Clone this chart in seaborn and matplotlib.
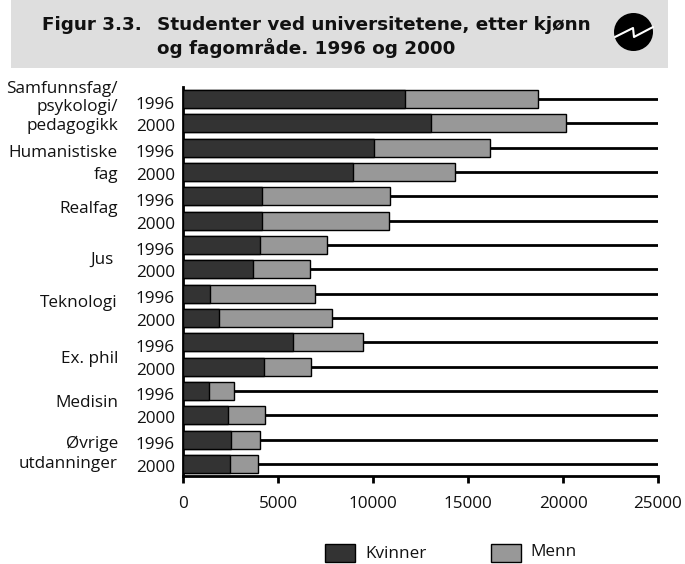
#!/usr/bin/env python3
"""Figur 3.3: students by gender and field, 1996 and 2000"""

import pandas as pd
import matplotlib.pyplot as plt
from matplotlib.patches import Ellipse, Rectangle
from matplotlib.transforms import ScaledTranslation
import seaborn as sns

W, H = 685, 564

# Category labels, one entry per printed line
field_lines = ['Samfunnsfag/', 'psykologi/', 'pedagogikk', 'Humanistiske', 'fag', 'Realfag', 'Jus ',
               'Teknologi', 'Ex. phil', 'Medisin', 'Øvrige', 'utdanninger']
years = ['1996', '2000']

# Pairs are 1996, 2000 for each field
kvinner = [11700, 13050, 10050, 8950, 4150, 4150, 4050, 3700,
           1400, 1900, 5800, 4250, 1350, 2350, 2550, 2500]
totalt = [18700, 20150, 16150, 14300, 10900, 10850, 7600, 6700,
          6950, 7850, 9450, 6750, 2700, 4300, 4050, 3950]
xticks = [0, 5000, 10000, 15000, 20000, 25000]

DARK = '#333333'
MID = '#989898'
BAND = '#dedede'
INK = '#111111'
FONT = ['Open Sans', 'DejaVu Sans']
SIZE = 12.3

sns.set_theme(style='white')
plt.rcParams['font.family'] = FONT

df = pd.DataFrame({
    'rad': [f'{i}' for i in range(len(kvinner))],
    'kvinner': kvinner,
    'totalt': totalt,
})

fig = plt.figure(figsize=(W / 100, H / 100), dpi=100)

# Overlay in pixel coordinates for the header band, logo and legend
bg = fig.add_axes([0, 0, 1, 1])
bg.set_xlim(0, W)
bg.set_ylim(H, 0)
bg.axis('off')

bg.add_patch(Rectangle((11, 0), 657, 68, color=BAND, lw=0))
title_font = dict(fontsize=13.2, fontweight='bold', va='center', color=INK, family='DejaVu Sans')
bg.text(42, 24.5, 'Figur 3.3.', **title_font)
bg.text(157, 24.5, 'Studenter ved universitetene, etter kjønn', **title_font)
bg.text(157, 48, 'og fagområde. 1996 og 2000', **title_font)

# Logo
bg.add_patch(Ellipse((633.5, 32), 39, 38, color='black', lw=0))
bg.plot([615, 633, 634, 653], [37, 28, 37, 27], color='white', lw=1.5)

ax = fig.add_axes([183 / W, 1 - 476 / H, 475 / W, 389 / H])
ax.hlines(range(len(totalt)), 0, 25000, color='black', lw=2, zorder=0)
sns.barplot(data=df, y='rad', x='totalt', color=MID, saturation=1, width=0.74,
            edgecolor='black', linewidth=1, ax=ax, zorder=2)
sns.barplot(data=df, y='rad', x='kvinner', color=DARK, saturation=1, width=0.74,
            edgecolor='black', linewidth=1, ax=ax, zorder=3)

ax.set_xlim(0, 25000)
ax.set_ylim(15.5, -0.5)
ax.set_xlabel('')
ax.set_ylabel('')
ax.set_xticks(xticks)
ax.set_xticklabels([str(v) for v in xticks], fontsize=SIZE, color=INK)
ax.set_yticks(range(len(totalt)))
ax.set_yticklabels(years * 8, fontsize=SIZE, color=INK)
ax.tick_params(axis='x', length=5, width=2, color='black', pad=9.5, bottom=True)
ax.tick_params(axis='y', length=0, pad=6)
for side in ['top', 'right']:
    ax.spines[side].set_visible(False)
for side in ['left', 'bottom']:
    ax.spines[side].set_color('black')
    ax.spines[side].set_linewidth(2)

# The year labels sit a little below their bars in the original
for i, label in enumerate(ax.get_yticklabels()):
    drop = 3.5 if i % 2 == 0 else 2
    label.set_transform(label.get_transform() + ScaledTranslation(0, -drop / 100, fig.dpi_scale_trans))

# Field names are placed by hand, the spacing in the original is uneven
field_y = [89, 107, 126, 153, 175, 209, 260, 303, 359, 403, 444, 464]
for name, ypx in zip(field_lines, field_y):
    bg.text(118, ypx, name, ha='right', va='center', fontsize=SIZE, color=INK)

# Legend
bg.add_patch(Rectangle((325, 544), 30, 18, facecolor=DARK, edgecolor='black', lw=1))
bg.text(365, 554, 'Kvinner', fontsize=SIZE, va='center', color=INK)
bg.add_patch(Rectangle((491, 544), 30, 18, facecolor=MID, edgecolor='black', lw=1))
bg.text(530, 552, 'Menn', fontsize=SIZE, va='center', color=INK)

fig.savefig('out.png', dpi=100)
